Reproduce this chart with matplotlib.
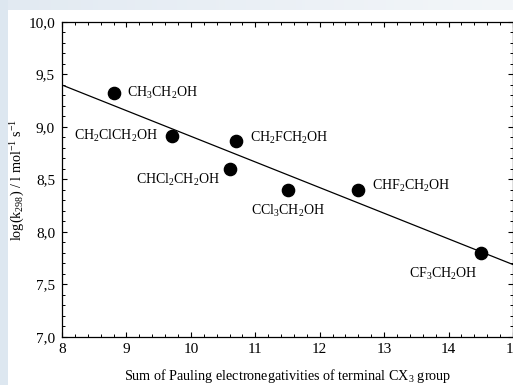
import matplotlib

matplotlib.use("Agg")
import matplotlib.pyplot as plt
import numpy as np
from matplotlib.patches import Rectangle
from matplotlib.ticker import FuncFormatter, MultipleLocator

# --- data ------------------------------------------------------------------
names = ["CH$_3$CH$_2$OH", "CH$_2$ClCH$_2$OH", "CH$_2$FCH$_2$OH", "CHCl$_2$CH$_2$OH",
         "CCl$_3$CH$_2$OH", "CHF$_2$CH$_2$OH", "CF$_3$CH$_2$OH"]
electroneg = [8.8, 9.7, 10.7, 10.6, 11.5, 12.6, 14.5]
logk = [9.32, 8.91, 8.87, 8.60, 8.40, 8.40, 7.80]
fit_x = [8.0, 15.0]
fit_y = [9.40, 7.69]

# label offsets (points) and alignment per compound
label_pos = [((10, 0), "left", "center"),
             ((-10, 0), "right", "center"),
             ((10, 2), "left", "center"),
             ((-7, -8), "right", "center"),
             ((0, -15), "center", "center"),
             ((10, 3), "left", "center"),
             ((-2, -15), "right", "center")]

plt.rcParams["font.family"] = ["Liberation Serif", "DejaVu Serif"]
plt.rcParams["mathtext.fontset"] = "custom"
plt.rcParams["mathtext.rm"] = "Liberation Serif"
plt.rcParams["mathtext.it"] = "Liberation Serif:italic"
plt.rcParams["mathtext.default"] = "rm"

fig = plt.figure(figsize=(5.13, 3.85), dpi=100)
W, H = 513, 385

# slide-like background: bluish strip on the left and a fading strip on top
bg = fig.add_axes([0, 0, 1, 1], zorder=-10)
bg.set_axis_off()
bg.add_patch(Rectangle((0, 0), 8, H, color="#dde7f0", lw=0))
grad = np.linspace(0, 1, 256)[None, :]
bg.imshow(grad, extent=[8, W, H - 10, H], cmap=matplotlib.colors.LinearSegmentedColormap.from_list(
    "top", ["#e2eaf2", "#f3f6f9"]), aspect="auto")
bg.set_xlim(0, W)
bg.set_ylim(0, H)

ax = fig.add_axes([62 / W, 48 / H, 451 / W, 315 / H])
ax.set_facecolor("none")

ax.plot(fit_x, fit_y, color="black", lw=0.9)
ax.plot(electroneg, logk, "o", color="black", ms=8.8, ls="none")

for name, x, y, (off, ha, va) in zip(names, electroneg, logk, label_pos):
    ax.annotate(name, (x, y), xytext=off, textcoords="offset points",
                ha=ha, va=va, fontsize=10)

ax.set_xlim(8, 15)
ax.set_ylim(7.0, 10.0)
ax.xaxis.set_major_locator(MultipleLocator(1))
ax.xaxis.set_minor_locator(MultipleLocator(0.2))
ax.yaxis.set_major_locator(MultipleLocator(0.5))
ax.yaxis.set_minor_locator(MultipleLocator(0.1))
ax.yaxis.set_major_formatter(FuncFormatter(lambda v, p: f"{v:.1f}".replace(".", ",")))
ax.tick_params(which="both", direction="in", top=True, right=True, labelsize=11)
ax.tick_params(which="major", length=3.5, width=0.8)
ax.tick_params(which="minor", length=2.0, width=0.7)
ax.tick_params(axis="y", pad=5)
ax.tick_params(axis="x", pad=4)
for s in ax.spines.values():
    s.set_linewidth(0.9)

ax.set_xlabel("Sum of Pauling electronegativities of terminal CX$_3$ group", fontsize=10.2,
              labelpad=8)
ax.set_ylabel("log(k$_{298}$) / l mol$^{-1}$ s$^{-1}$", fontsize=10.2, labelpad=1)

fig.savefig("out.png", dpi=100)
